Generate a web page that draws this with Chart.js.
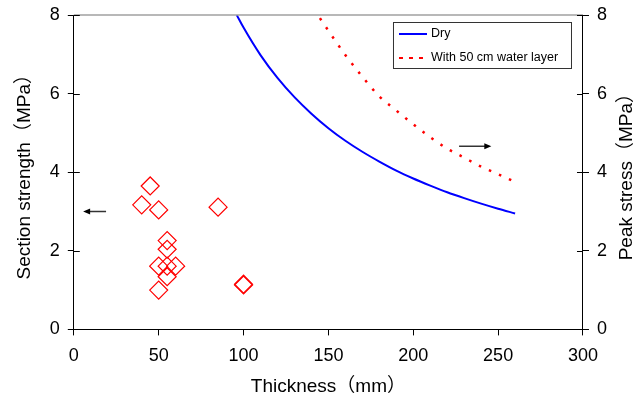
<!DOCTYPE html>
<html>
<head>
<style type="text/css">
  body { margin: 0; background: #fff; }
</style>
</head>
<body>
<canvas id="myChart" width="639" height="397"></canvas>
<script src="https://cdn.jsdelivr.net/npm/chart.js@4/dist/chart.umd.min.js"></script>
<script>
// section strength tests (left axis)
var testThickness = [45, 40, 50, 85, 55, 55, 50, 55, 60, 55, 50, 100, 100];
var testStrength  = [3.65, 3.17, 3.04, 3.11, 2.26, 2.04, 1.61, 1.61, 1.61, 1.34, 1.00, 1.13, 1.15];

// peak stress curves (right axis)
var dryThickness = [96, 100, 110, 120, 130, 140, 150, 160, 170, 180, 190, 200, 210, 220, 230, 240, 250, 260];
var dryStress    = [8.0, 7.68, 6.98, 6.40, 5.91, 5.49, 5.12, 4.80, 4.52, 4.27, 4.04, 3.84, 3.66, 3.49, 3.34, 3.20, 3.07, 2.95];
var wetThickness = [145, 150, 160, 170, 180, 190, 200, 210, 220, 230, 240, 250, 260];
var wetStress    = [7.92, 7.60, 6.98, 6.43, 5.93, 5.57, 5.22, 4.89, 4.60, 4.37, 4.14, 3.95, 3.75];

// axis pointers: [from, to]
var leftArrowX  = [19, 5.5];
var leftArrowY  = [3.0, 3.0];
var rightArrowX = [227, 246];
var rightArrowY = [4.66, 4.66];

var xTicks = [0, 50, 100, 150, 200, 250, 300];
var yTicks = [0, 2, 4, 6, 8];
var rightTitle = 'Peak stress（MPa）';

function pts(xs, ys) {
  var out = [];
  for (var i = 0; i < xs.length; i++) out.push({x: xs[i], y: ys[i]});
  return out;
}

var FONT = '"Liberation Sans", Arial, "Noto Sans CJK SC", sans-serif';

var extras = {
  id: 'extras',
  afterDraw: function(chart) {
    var c = chart.ctx, a = chart.chartArea;
    var sx = chart.scales.x, sy = chart.scales.y, sy2 = chart.scales.y2;
    c.save();
    // top border
    c.strokeStyle = '#a0a0a0'; c.lineWidth = 1.5;
    c.beginPath(); c.moveTo(a.left, a.top); c.lineTo(a.right, a.top); c.stroke();
    // inner tick halves
    c.strokeStyle = '#000'; c.lineWidth = 1;
    yTicks.forEach(function(v) {
      var py = Math.round(sy.getPixelForValue(v)) + 0.5;
      c.beginPath(); c.moveTo(a.left, py); c.lineTo(a.left + 6, py); c.stroke();
      c.beginPath(); c.moveTo(a.right, py); c.lineTo(a.right - 6, py); c.stroke();
    });
    // arrows
    function arrow(xs, ys, scaleY) {
      var x0 = sx.getPixelForValue(xs[0]), x1 = sx.getPixelForValue(xs[1]);
      var y0 = scaleY.getPixelForValue(ys[0]), y1 = scaleY.getPixelForValue(ys[1]);
      var dir = x1 > x0 ? 1 : -1;
      c.strokeStyle = '#333'; c.fillStyle = '#000'; c.lineWidth = 1.5;
      c.beginPath(); c.moveTo(x0, y0); c.lineTo(x1 - dir * 5, y1); c.stroke();
      c.beginPath(); c.moveTo(x1, y1); c.lineTo(x1 - dir * 7, y1 - 3); c.lineTo(x1 - dir * 7, y1 + 3); c.closePath(); c.fill();
    }
    arrow(leftArrowX, leftArrowY, sy);
    arrow(rightArrowX, rightArrowY, sy2);
    // right axis title, reading bottom to top like the left one
    c.save();
    c.translate(chart.width - 12, (a.top + a.bottom) / 2);
    c.rotate(-Math.PI / 2);
    c.font = '19px ' + FONT;
    c.fillStyle = '#000';
    c.textAlign = 'center';
    c.textBaseline = 'middle';
    c.fillText(rightTitle, 0, 0);
    c.restore();
    // legend
    var lx = a.right - 190, ly = a.top + 7, lw = 178, lh = 46;
    c.fillStyle = '#fff';
    c.fillRect(lx, ly, lw, lh);
    c.strokeStyle = '#333'; c.lineWidth = 1;
    c.strokeRect(lx + 0.5, ly + 0.5, lw, lh);
    c.font = '12.5px ' + FONT;
    c.textBaseline = 'middle';
    var items = [chart.data.datasets[1], chart.data.datasets[2]];
    items.forEach(function(ds, i) {
      var yy = ly + 12 + i * 24;
      c.strokeStyle = ds.borderColor; c.lineWidth = 2;
      c.setLineDash(ds.borderDash ? [4, 6] : []);
      c.beginPath(); c.moveTo(lx + 6, yy); c.lineTo(lx + 34, yy); c.stroke();
      c.setLineDash([]);
      c.fillStyle = '#000';
      c.fillText(ds.label, lx + 38, yy);
    });
    c.restore();
  }
};

var ctx = document.getElementById('myChart').getContext('2d');
var myChart = new Chart(ctx, {
  type: 'scatter',
  data: {
    datasets: [
      {
        label: 'Section strength',
        data: pts(testThickness, testStrength),
        yAxisID: 'y',
        pointStyle: 'rectRot',
        pointRadius: 9,
        pointBorderColor: '#ff0000',
        pointBackgroundColor: 'rgba(0,0,0,0)',
        pointBorderWidth: 1.2,
        showLine: false
      },
      {
        label: 'Dry',
        data: pts(dryThickness, dryStress),
        yAxisID: 'y2',
        showLine: true,
        borderColor: '#0000ff',
        borderWidth: 2,
        pointRadius: 0,
        cubicInterpolationMode: 'monotone'
      },
      {
        label: 'With 50 cm water layer',
        data: pts(wetThickness, wetStress),
        yAxisID: 'y2',
        showLine: true,
        borderColor: '#ff0000',
        borderWidth: 2.5,
        borderDash: [2.5, 8.5],
        pointRadius: 0,
        cubicInterpolationMode: 'monotone'
      }
    ]
  },
  options: {
    responsive: false,
    animation: false,
    layout: { padding: { left: 13, right: 24, top: 15, bottom: 1 } },
    plugins: { legend: { display: false }, tooltip: { enabled: false } },
    scales: {
      x: {
        type: 'linear', min: 0, max: 300,
        afterBuildTicks: function(s) { s.ticks = xTicks.map(function(v) { return {value: v}; }); },
        grid: { drawOnChartArea: false, color: '#000', tickLength: 6 },
        border: { color: '#000', width: 1 },
        ticks: { color: '#000', font: { size: 18, family: FONT }, padding: 10, maxRotation: 0 },
        title: { display: true, text: 'Thickness（mm）', color: '#000', font: { size: 19, family: FONT, lineHeight: 1 }, padding: { top: 0, bottom: 0 } }
      },
      y: {
        type: 'linear', position: 'left', min: 0, max: 8,
        afterBuildTicks: function(s) { s.ticks = yTicks.map(function(v) { return {value: v}; }); },
        grid: { drawOnChartArea: false, color: '#000', tickLength: 6 },
        border: { color: '#000', width: 1 },
        ticks: { color: '#000', font: { size: 18, family: FONT, lineHeight: 0.6 }, padding: 8 },
        title: { display: true, text: 'Section strength（MPa）', color: '#000', font: { size: 19, family: FONT }, padding: { top: 0, bottom: 6 } }
      },
      y2: {
        type: 'linear', position: 'right', min: 0, max: 8,
        afterBuildTicks: function(s) { s.ticks = yTicks.map(function(v) { return {value: v}; }); },
        grid: { drawOnChartArea: false, color: '#000', tickLength: 6 },
        border: { color: '#000', width: 1 },
        ticks: { color: '#000', font: { size: 18, family: FONT, lineHeight: 0.6 }, padding: 8 }
      }
    }
  },
  plugins: [extras]
});
</script>
</body>
</html>
